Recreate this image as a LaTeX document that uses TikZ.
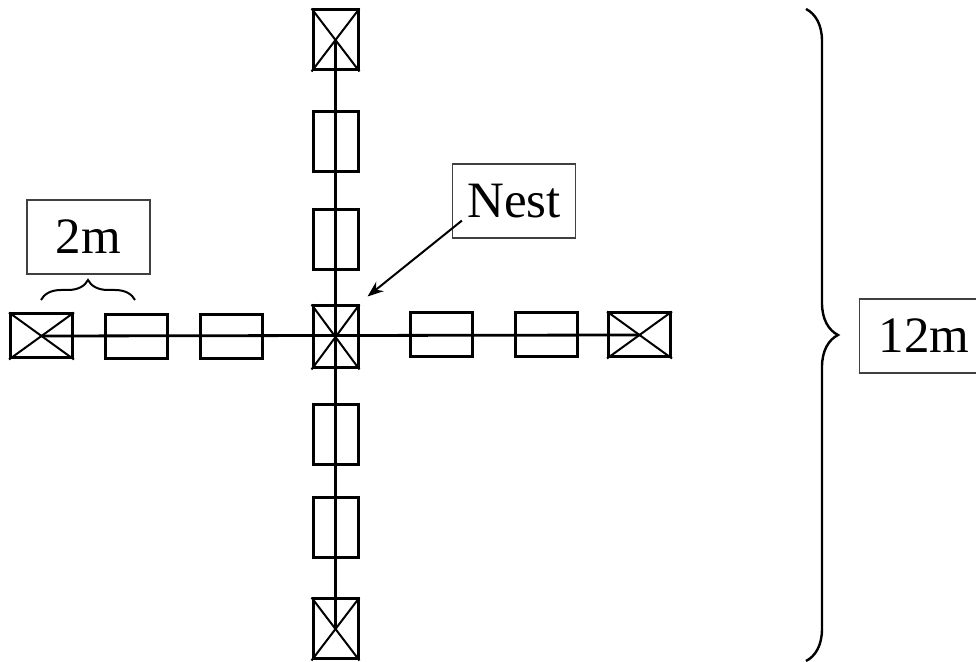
\documentclass[tikz,border=0pt]{standalone}
\usepackage{fontspec}
\setmainfont{Liberation Serif}
\usetikzlibrary{decorations.pathreplacing,arrows.meta,calc}

\tikzset{
  trap/.style={draw, line width=1.5pt, inner sep=0pt},
  vtrap/.style={trap, minimum width=22.5pt, minimum height=30pt},
  htrap/.style={trap, minimum width=31pt, minimum height=22pt},
  label box/.style={draw=black!75, line width=0.6pt, inner sep=0pt,
    minimum width=61.5pt, minimum height=37pt, font=\fontsize{25.5}{28}\selectfont},
  transect/.style={line width=1.4pt},
  crossline/.style={line width=1pt},
  bracket/.style={decorate, line width=1.2pt},
}

% draw the two diagonals of a marked trap
\newcommand{\markcross}[1]{%
  \draw[crossline] (#1.north west) -- (#1.south east);
  \draw[crossline] (#1.north east) -- (#1.south west);}

\begin{document}
\begin{tikzpicture}[x=0.5pt, y=-0.5pt]
\useasboundingbox (0,0) rectangle (976,662);

% traps along the north-south transect
\node[vtrap] (t1) at (335.5,40) {};
\node[vtrap] (t2) at (335.5,141.5) {};
\node[vtrap] (t3) at (335.5,240) {};
\node[trap, minimum width=22.5pt, minimum height=31pt] (c) at (335.5,337) {};
\node[vtrap] (b1) at (335.5,435) {};
\node[vtrap] (b2) at (335.5,527.5) {};
\node[vtrap] (b3) at (335.5,629) {};

% traps along the east-west transect
\node[htrap] (l3) at (41.5,336) {};
\node[htrap] (l2) at (136.5,336.5) {};
\node[htrap] (l1) at (231,337) {};
\node[htrap] (r1) at (441,335) {};
\node[htrap] (r2) at (546,335) {};
\node[htrap] (r3) at (639.5,335) {};

% transect lines
\draw[transect] (t1.center) -- (b3.center);
\draw[transect] (l3.center) -- (r3.center);

% marked traps
\markcross{t1}
\markcross{b3}
\markcross{c}
\markcross{l3}
\markcross{r3}

% labels
\node[label box] (two) at (88.5,237) {2m};
\node[label box] (nest) at (514,201) {Nest};
\node[label box, anchor=west, text width=72pt, align=left] (twelve) at (859,336) {\hspace{9.5pt}12m};

% nest pointer
\coordinate (nestfoot) at ($(nest.south west)+(10,-18)$);
\coordinate (nesttip) at ($(c.north east)+(8,-8)$);
\draw[line width=1pt, -{Stealth[length=8pt,width=6pt]}] (nestfoot) -- (nesttip);

% spacing brace
\coordinate (sa) at (41,300);
\coordinate (sb) at (135,300);
\draw[bracket, line width=1pt, decoration={brace, amplitude=10pt}] (sa) -- (sb);

% overall extent brace
\coordinate (ea) at (806,9);
\coordinate (eb) at (806,661);
\draw[bracket, decoration={brace, amplitude=16pt}] (ea) -- (eb);
\end{tikzpicture}
\end{document}
